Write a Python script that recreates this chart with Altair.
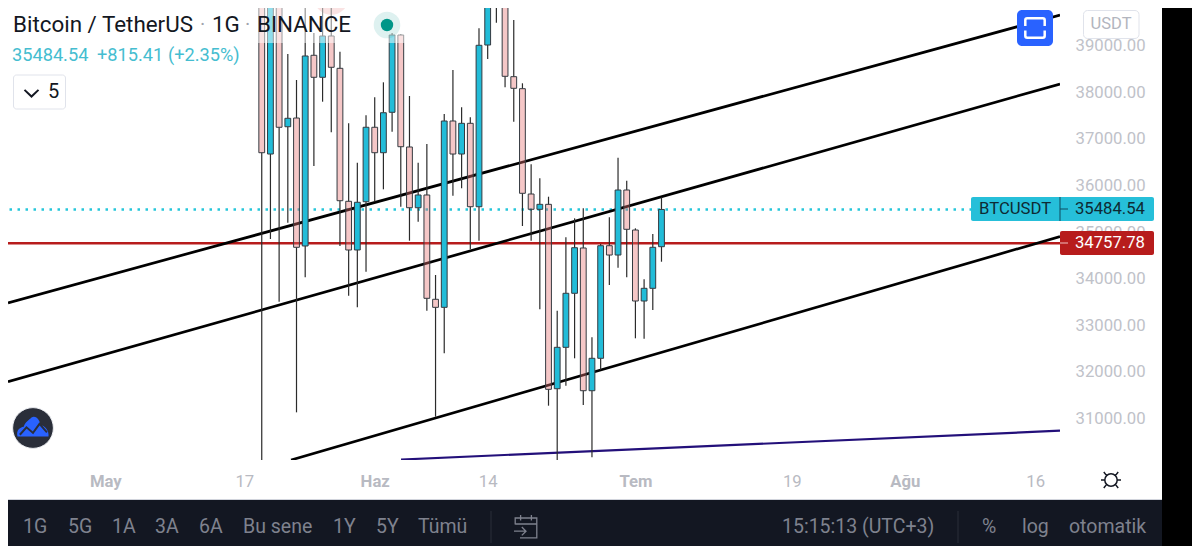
import altair as alt
import pandas as pd

START_DATE = "2021-05-19"
opens = [41000,36677,41000,37264,37451,34699,38800,38327,39215,38520,35660,34613,35651,37252,36705,37574,39236,36828,35522,35796,33553,33380,37387,36677,37337,35544,39021,41000,40300,38340,38082,35817,35488,35595,31630,32520,33682,34656,31587,32284,34705,34505,35903,35043,33516,33789,34684]
closes = [36705,42000,37252,37445,34671,38785,38327,39215,38542,35673,34613,35639,37252,36705,37565,39236,36834,35522,35796,33574,33380,37387,36677,37337,35544,39015,40500,40300,38348,38090,35832,35488,35595,31617,32520,33682,34662,31587,32284,34705,34505,35903,35058,33516,33789,34671,35484.54]
highs = [42000,42500,42000,38828,38269,39918,39279,39946,39946,38877,37337,36490,37509,37897,38219,39279,39258,37925,36490,36892,34075,37537,38484,37682,37466,39380,41000,41300,40500,39559,38198,36456,36155,35759,33307,34886,35294,35509,32735,34742,35316,36598,36103,35079,33983,34957,35746]
lows = [30000,34850,33501,35200,31122,34026,36419,37802,37144,34699,33630,33380,34146,35651,35918,37157,35544,34813,35221,33307,31028,32391,35781,35940,34628,34813,38720,39501,38112,37372,35129,34813,33338,31265,30000,31695,32284,31279,30155,32032,33860,34232,34026,32714,32705,33322,34361]

y_tick_values = [31000,32000,33000,34000,35000,36000,37000,38000,39000]
x_tick_dates = [(5,1),(5,17),(6,1),(6,14),(7,1),(7,19),(8,1),(8,16)]

channel_ids = ["a","a","b","b","c","c"]
channel_dates = ["2021-04-19T19:12:00Z","2021-08-18T20:38:00Z","2021-04-19T19:12:00Z","2021-08-18T20:38:00Z","2021-05-22T08:55:00Z","2021-08-18T20:38:00Z"]
channel_prices = [33477,39666,31780,38183,30097,34903]
support_dates = ["2021-06-04T00:45:00Z","2021-08-18T20:38:00Z"]
support_prices = [30107,30727]
last_price = 35484.54
level_price = 34757.78

dates = pd.date_range(START_DATE, periods=len(opens), freq="D").strftime("%Y-%m-%d").tolist()
candles = pd.DataFrame({"date": dates, "open": opens, "close": closes, "high": highs, "low": lows})
candles["top"] = candles[["open", "close"]].max(axis=1)
candles["bottom"] = candles[["open", "close"]].min(axis=1)
candles["dir"] = ["up" if c >= o else "down" for o, c in zip(opens, closes)]

x_scale = alt.Scale(type="utc", padding=0, domain=[
        alt.DateTime(year=2021, month=4, date=19, hours=19, minutes=12, utc=True),
        alt.DateTime(year=2021, month=8, date=18, hours=20, minutes=38, utc=True)])
x_axis = alt.Axis(
        values=[alt.DateTime(year=2021, month=m, date=d, utc=True) for m, d in x_tick_dates],
        labelExpr="utcdate(datum.value) == 1 ? (utcmonth(datum.value) == 4 ? 'May' : utcmonth(datum.value) == 5 ? 'Haz' : utcmonth(datum.value) == 6 ? 'Tem' : 'Ağu') : '' + utcdate(datum.value)",
        labelFontWeight={"condition": {"test": "utcdate(datum.value) == 1", "value": 700}, "value": 400},
        labelFont="Roboto", labelFontSize=16.7, labelColor="#b8bac2", labelPadding=13,
        ticks=False, domain=False, grid=False, labelOverlap=False, labelFlush=False, labelBound=False)
X = alt.X("date:T", title=None, scale=x_scale, axis=x_axis)
y_scale = alt.Scale(domain=[30097, 39817], nice=False, zero=False)
y_axis = alt.Axis(orient="right", values=y_tick_values, format=".2f", labelFont="Roboto", labelFontSize=16.7,
        labelColor="#c0c2c9", labelPadding=15, ticks=False, domain=False, grid=False, labelOverlap=False, labelFlush=False, labelBound=False)


def Yf(field):
    return alt.Y(field, title=None, scale=y_scale, axis=y_axis)


Y = Yf("p:Q")


def one():
    return alt.Chart(pd.DataFrame({"t": ["x"]}))


def rect(x0, x1, y0, y1, fill, radius=0, stroke=None, opacity=1.0, sw=1):
    kw = {"cornerRadius": radius, "fill": fill, "opacity": opacity}
    if stroke:
        kw["stroke"] = stroke
        kw["strokeWidth"] = sw
    return one().mark_rect(**kw).encode(x=alt.value(x0 - 8), x2=alt.value(x1 - 8), y=alt.value(y0 - 8), y2=alt.value(y1 - 8))


def txt(s, x, y, size, color, align="left", weight=400):
    return alt.Chart(pd.DataFrame({"t": [s]})).mark_text(font="Roboto", fontSize=size, color=color, align=align,
        baseline="middle", fontWeight=weight).encode(x=alt.value(x - 8), y=alt.value(y - 8), text="t:N")


def icon(path, x, y, half, stroke=None, fill=None, sw=1.5):
    kw = {"shape": path, "size": (2 * half) ** 2, "opacity": 1, "filled": fill is not None}
    if fill:
        kw["fill"] = fill
        kw["strokeWidth"] = 0
    if stroke:
        kw["stroke"] = stroke
        kw["strokeWidth"] = sw
    return one().mark_point(**kw).encode(x=alt.value(x - 8), y=alt.value(y - 8))


def dot(x, y, r, fill, opacity=1.0, stroke=None):
    kw = {"size": 3.14159 * r * r, "fill": fill, "opacity": opacity}
    if stroke:
        kw["stroke"] = stroke
        kw["strokeWidth"] = 1
    return one().mark_circle(**kw).encode(x=alt.value(x - 8), y=alt.value(y - 8))


levels = alt.Chart(pd.DataFrame({"p": [level_price]})).mark_rule(color="#b71c1c", strokeWidth=2.5, clip=True).encode(y=Y)
last = alt.Chart(pd.DataFrame({"p": [last_price]})).mark_rule(color="#26c6da", strokeWidth=2.4, strokeDash=[2.5, 5.5], clip=True).encode(y=Y)

lines = alt.Chart(pd.DataFrame({"id": channel_ids, "date": channel_dates, "p": channel_prices})).mark_line(
    strokeWidth=2.7, color="#000000", clip=True).encode(x=X, y=Y, detail="id:N")
support = alt.Chart(pd.DataFrame({"date": support_dates, "p": support_prices})).mark_line(
    strokeWidth=2.2, color="#23107a", clip=True).encode(x=X, y=Y)

marker = alt.Chart(pd.DataFrame({"date": ["2021-05-27"], "p": [40053]})).mark_circle(
    size=1256, fill="#e57373", opacity=0.4, clip=True).encode(x=X, y=Y)

base = alt.Chart(candles)
wick_up = base.mark_rule(color="#2b2b2b", strokeWidth=1.2, clip=True).encode(x=X, y=Yf("high:Q"), y2="top:Q")
wick_dn = base.mark_rule(color="#2b2b2b", strokeWidth=1.2, clip=True).encode(x=X, y=Yf("bottom:Q"), y2="low:Q")
bodies = base.mark_bar(width=5.8, stroke="#343a40", strokeWidth=1, clip=True).encode(
    x=X, y=Yf("top:Q"), y2="bottom:Q",
    fill=alt.Fill("dir:N", legend=None, scale=alt.Scale(domain=["up", "down"], range=["#22bcd8", "#e57373"])),
    fillOpacity=alt.FillOpacity("dir:N", legend=None, scale=alt.Scale(domain=["up", "down"], range=[1.0, 0.4])))

FULLSCREEN = "M-1,-0.2 L-1,-0.8 Q-1,-1 -0.8,-1 L0.8,-1 Q1,-1 1,-0.8 L1,-0.2 M-1,0.25 L-1,0.8 Q-1,1 -0.8,1 L0.8,1 Q1,1 1,0.8 L1,0.25"
SUN = "M0.62,0 A0.62,0.62 0 1 1 -0.62,0 A0.62,0.62 0 1 1 0.62,0 Z M0.62,0 L1,0 M-0.62,0 L-1,0 M0.44,0.44 L0.72,0.8 M-0.44,0.44 L-0.72,0.8 M0.44,-0.44 L0.72,-0.8 M-0.44,-0.44 L-0.72,-0.8"
CAL = "M-0.9,-0.2 L-0.9,-0.75 L0.9,-0.75 L0.9,0.9 L-0.5,0.9 M-0.9,-0.25 L0.9,-0.25 M-0.45,-1 L-0.45,-0.55 M0.45,-1 L0.45,-0.55 M-1,0.35 L0,0.35 M-0.35,0 L0,0.35 L-0.35,0.7"
CLOUD = "M-1,0.62 C-1.1,0.2 -0.85,0.02 -0.6,-0.02 C-0.5,-0.35 -0.25,-0.45 -0.1,-0.62 C0.2,-0.8 0.5,-0.4 0.45,-0.12 C0.8,-0.1 1.05,0.25 1,0.62 Z"
ZIG = "M-0.85,0.5 L-0.42,0.02 L0,0.38 L0.42,-0.2 L0.9,0.35"

grey = "#7f828e"
bar_labels = [("1G", 23), ("5G", 68), ("1A", 112), ("3A", 155), ("6A", 199), ("Bu sene", 243), ("1Y", 333), ("5Y", 376), ("Tümü", 418),
              ("15:15:13 (UTC+3)", 782), ("%", 982), ("log", 1022), ("otomatik", 1069)]

layers = [levels, last, lines, support, marker, wick_up, wick_dn, bodies,
    rect(8, 405, 8, 43, "#ffffff", opacity=0.5),
    dot(387, 25, 15, "#009688", 0.13), dot(387, 25, 7, "#009688"),
    txt("Bitcoin / TetherUS", 13, 25, 22.4, "#131722"), txt("·", 200, 25, 20, "#a0a3ad"),
    txt("1G", 212, 25, 22.4, "#131722"), txt("·", 245, 25, 20, "#a0a3ad"), txt("BINANCE", 257, 25, 22.4, "#131722"),
    txt("35484.54", 12, 56, 18.2, "#45bdd0"), txt("+815.41", 97, 56, 18.2, "#45bdd0"), txt("(+2.35%)", 168, 56, 18.2, "#45bdd0"),
    rect(13.5, 65.5, 75, 109, "#ffffff", radius=3, stroke="#e0e3eb"),
    icon("M-1,-0.45 L0,0.5 L1,-0.45", 31.5, 93, 7, stroke="#131722", sw=2),
    txt("5", 48, 92, 20, "#131722"),
    rect(1017, 1053, 10, 46, "#2962ff", radius=5),
    icon(FULLSCREEN, 1035, 28, 9.7, stroke="#ffffff", sw=2.5),
    rect(1083.5, 1139, 10.5, 38.5, "#ffffff", radius=4, stroke="#e0e3eb"),
    txt("USDT", 1111, 24, 16.5, "#b2b5be", align="center"),
    rect(971, 1154, 197, 221, "#26bfd9", radius=2),
    txt("BTCUSDT", 979, 209, 16.7, "#0e2a33"),
    rect(1059.5, 1060.5, 197, 221, "#0e4a5e"),
    rect(1060, 1068, 208.5, 209.5, "#0e4a5e"),
    txt("35484.54", 1145, 209, 16.7, "#0e2a33", align="right"),
    rect(1060, 1154, 231, 255, "#b71c1c", radius=2),
    rect(1060, 1068, 242.5, 243.5, "#f0c0c0"),
    txt("34757.78", 1145, 243, 16.7, "#ffffff", align="right"),
    dot(33, 428, 23, "#2a2e39", stroke="#eceef2"),
    icon(CLOUD, 33, 427, 15.5, fill="#2962ff"),
    icon(ZIG, 33, 427, 15.5, stroke="#2a2e39", sw=2),
    icon(SUN, 1111, 480, 10, stroke="#131722", sw=1.5),
    rect(1162, 1200, 8, 554, "#000000"),
    rect(8, 1162, 500, 554, "#131722"),
    rect(8, 1162, 499, 500, "#d1d4dc"),
    rect(490.5, 491.5, 511, 543, "#2a2e39"),
    rect(957.5, 958.5, 511, 543, "#2a2e39"),
    icon(CAL, 526, 527, 12, stroke=grey, sw=1.3),
] + [txt(s, x, 527, 19.5, grey) for s, x in bar_labels]

chart = alt.layer(*layers).properties(
    width=1052, height=452, autosize="none",
    padding={"left": 0, "top": 0, "right": 132, "bottom": 86},
    background="#ffffff",
).configure_view(strokeWidth=0)

chart.save("out.html", embed_options={"renderer": "svg", "actions": False})
